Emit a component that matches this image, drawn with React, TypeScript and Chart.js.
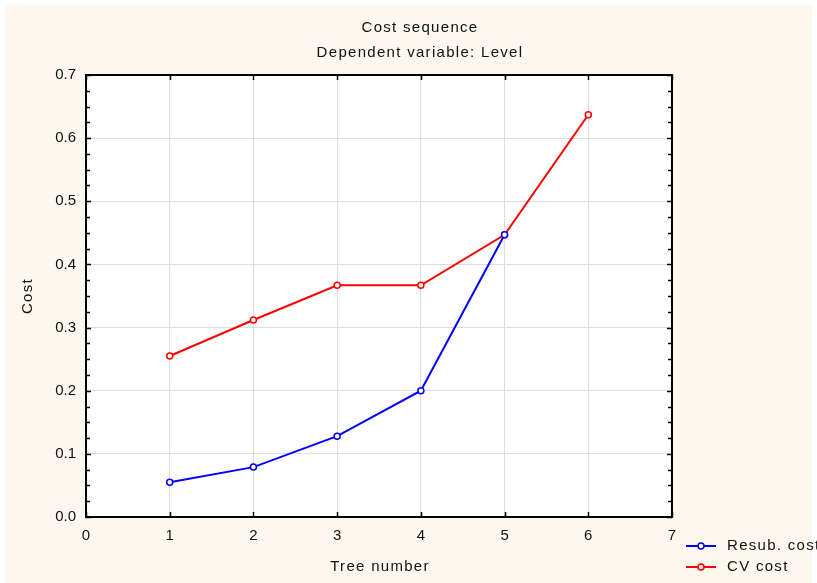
import React, { useEffect, useRef } from "react";
import { Chart, registerables } from "chart.js";

Chart.register(...registerables);

const treeNumbers = [1, 2, 3, 4, 5, 6];
const resubCost = [0.055, 0.079, 0.128, 0.2, 0.447];
const cvCost = [0.255, 0.312, 0.367, 0.367, 0.447, 0.637];
const xTicks = [0, 1, 2, 3, 4, 5, 6, 7];
const yTicks = [0, 0.1, 0.2, 0.3, 0.4, 0.5, 0.6, 0.7];
const title1 = "Cost sequence";
const title2 = "Dependent variable: Level";
const xTitle = "Tree number";
const yTitle = "Cost";
const seriesNames = ["Resub. cost", "CV cost"];
const seriesColors = ["#0000ff", "#ff0000"];

const FONT = "'Liberation Sans', Arial, sans-serif";

const decorPlugin = {
  id: "decor",
  beforeDraw(chart: any) {
    const { ctx, chartArea } = chart;
    ctx.save();
    ctx.fillStyle = "#ffffff";
    ctx.fillRect(chartArea.left, chartArea.top, chartArea.right - chartArea.left, chartArea.bottom - chartArea.top);
    ctx.restore();
  },
  afterDatasetsDraw(chart: any) {
    const { ctx, chartArea, scales } = chart;
    const { left, right, top, bottom } = chartArea;
    ctx.save();
    ctx.strokeStyle = "#000";
    ctx.lineWidth = 1.5;
    const ys = scales.y;
    for (let i = 0; i <= 28; i++) {
      const v = i * 0.025;
      const p = Math.round(ys.getPixelForValue(v)) + 0.5;
      const len = i % 4 === 0 ? 5 : 4;
      ctx.beginPath();
      ctx.moveTo(left, p);
      ctx.lineTo(left + len, p);
      ctx.moveTo(right, p);
      ctx.lineTo(right - len, p);
      ctx.stroke();
    }
    const xs = scales.x;
    for (const v of xTicks) {
      const p = Math.round(xs.getPixelForValue(v)) + 0.5;
      ctx.beginPath();
      ctx.moveTo(p, top);
      ctx.lineTo(p, top + 5);
      ctx.moveTo(p, bottom);
      ctx.lineTo(p, bottom - 5);
      ctx.stroke();
    }
    ctx.lineWidth = 2;
    ctx.strokeRect(left, top, right - left, bottom - top);

    ctx.fillStyle = "#111111";
    ctx.textBaseline = "middle";
    ctx.font = `15px ${FONT}`;
    (ctx as any).letterSpacing = "1.3px";
    ctx.textAlign = "center";
    ctx.fillText(title1, 420, 28);
    ctx.fillText(title2, 420, 53);
    ctx.fillText(xTitle, 380, 567);
    ctx.save();
    ctx.translate(28, (top + bottom) / 2);
    ctx.rotate(-Math.PI / 2);
    ctx.fillText(yTitle, 0, 0);
    ctx.restore();

    const rows = [546, 567];
    for (let i = 0; i < 2; i++) {
      const y = rows[i];
      ctx.strokeStyle = seriesColors[i];
      ctx.lineWidth = 2;
      ctx.beginPath();
      ctx.moveTo(686, y);
      ctx.lineTo(716, y);
      ctx.stroke();
      ctx.fillStyle = "#ffffff";
      ctx.lineWidth = 1.5;
      ctx.beginPath();
      ctx.arc(701, y, 3, 0, Math.PI * 2);
      ctx.fill();
      ctx.stroke();
      ctx.fillStyle = "#111111";
      ctx.textAlign = "left";
      ctx.fillText(seriesNames[i], 727, y);
    }
    (ctx as any).letterSpacing = "0px";
    ctx.restore();
  },
};

export default function App() {
  const ref = useRef<HTMLCanvasElement | null>(null);
  useEffect(() => {
    const canvas = ref.current;
    if (!canvas) return;
    const mk = (i: number, vals: number[]) => ({
      label: seriesNames[i],
      data: vals.map((v, k) => ({ x: treeNumbers[k], y: v })),
      borderColor: seriesColors[i],
      backgroundColor: "#ffffff",
      borderWidth: 2,
      pointRadius: 3,
      pointBorderWidth: 1.5,
      pointBackgroundColor: "#ffffff",
      pointBorderColor: seriesColors[i],
      tension: 0,
    });
    const chart = new Chart(canvas, {
      type: "line",
      data: { datasets: [mk(0, resubCost), mk(1, cvCost)] },
      options: {
        animation: false,
        responsive: false,
        maintainAspectRatio: false,
        layout: { padding: { left: 0, right: 145, top: 75, bottom: 0 } },
        plugins: {
          legend: { display: false },
          title: { display: false },
          tooltip: { enabled: false },
        },
        scales: {
          x: {
            type: "linear",
            min: 0,
            max: 7,
            afterBuildTicks: (s: any) => {
              s.ticks = xTicks.map((v) => ({ value: v }));
            },
            afterFit: (s: any) => {
              s.height = 66;
            },
            grid: { color: "#dddddd", lineWidth: 1, drawTicks: false },
            border: { display: false },
            ticks: {
              color: "#111111",
              font: { family: FONT, size: 15 },
              padding: 10,
              maxRotation: 0,
            },
          },
          y: {
            type: "linear",
            min: 0,
            max: 0.7,
            afterBuildTicks: (s: any) => {
              s.ticks = yTicks.map((v) => ({ value: v }));
            },
            afterFit: (s: any) => {
              s.width = 86;
            },
            grid: { color: "#dddddd", lineWidth: 1, drawTicks: false },
            border: { display: false },
            ticks: {
              color: "#111111",
              font: { family: FONT, size: 15 },
              padding: 10,
              callback: (v: any) => Number(v).toFixed(1),
            },
          },
        },
      },
      plugins: [decorPlugin],
    });
    return () => chart.destroy();
  }, []);

  return (
    <div style={{ position: "fixed", left: 0, top: 0, width: 817, height: 583, background: "#ffffff" }}>
      <div style={{ position: "absolute", left: 5, top: 5, width: 807, height: 578, background: "#fdf8ee" }} />
      <canvas ref={ref} width={817} height={583} style={{ position: "absolute", left: 0, top: 0, width: 817, height: 583 }} />
    </div>
  );
}
